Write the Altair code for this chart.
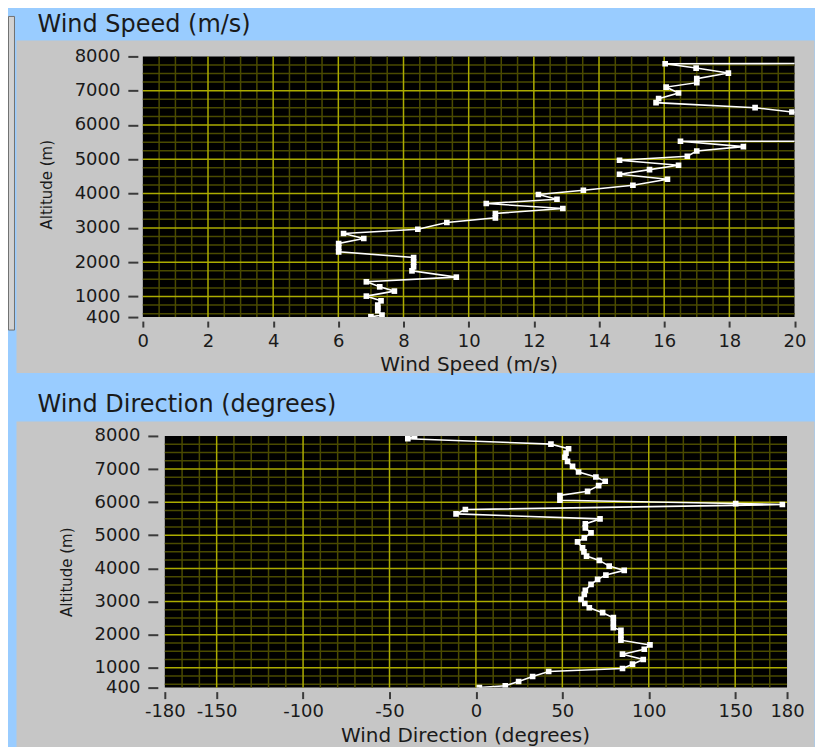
import altair as alt
import pandas as pd

# ---------------- data ----------------
# Wind speed profile (altitude m, speed m/s); two points lie beyond the 20 m/s edge
speed_alt = [7800, 7787, 7660, 7514, 7350, 7234, 7106, 6932, 6768, 6651, 6505, 6378,
             5532, 5525, 5370, 5243, 5088, 4971, 4826, 4700, 4564, 4418, 4243, 4098,
             3973, 3836, 3711, 3565, 3420, 3292, 3157, 2962, 2837, 2691, 2546, 2424,
             2302, 2138, 2000, 1864, 1748, 1564, 1428, 1282, 1157, 1011, 874, 749,
             666, 583, 458, 410]
speed_val = [28.0, 16.03, 16.98, 17.97, 17.0, 17.0, 16.06, 16.44, 15.83, 15.75, 18.79, 19.92,
             28.0, 16.5, 18.43, 17.0, 16.71, 14.63, 16.44, 15.55, 14.63, 16.1, 15.04, 13.52,
             12.14, 12.71, 10.54, 12.89, 10.82, 10.82, 9.33, 8.44, 6.16, 6.78, 6.01, 6.01,
             6.01, 8.31, 8.31, 8.31, 8.26, 9.62, 6.86, 7.27, 7.72, 6.86, 7.31, 7.21,
             7.21, 7.21, 7.34, 7.0]

# Wind direction profile (altitude m, degrees)
dir_alt = [7995, 7915, 7753, 7614, 7482, 7357, 7232, 7081, 6910, 6759, 6630, 6500,
           6328, 6200, 6057, 5958, 5928, 5777, 5645, 5494, 5344, 5224, 5073, 4922,
           4801, 4620, 4500, 4371, 4241, 4069, 3940, 3798, 3669, 3518, 3337, 3217,
           3066, 2940, 2813, 2663, 2512, 2362, 2211, 2132, 1982, 1832, 1690, 1560,
           1410, 1248, 1108, 976, 886, 735, 585, 455, 400]
dir_val = [-35.5, -39.4, 43.4, 53.6, 52.1, 51.5, 53.0, 55.9, 59.4, 69.4, 74.8, 71.0,
           64.6, 48.6, 48.6, 150.3, 177.3, -6.1, -11.5, 71.8, 63.3, 63.3, 66.6, 62.7,
           58.8, 61.7, 62.5, 64.0, 71.4, 77.1, 85.8, 75.2, 70.4, 66.6, 63.3, 62.7,
           60.8, 63.0, 65.6, 73.3, 79.5, 79.5, 79.5, 83.9, 83.9, 83.9, 100.7, 97.4,
           84.8, 96.8, 90.6, 84.8, 42.1, 32.8, 24.7, 17.0, 2.0]

# axis tick labels
speed_ticks = [0, 2, 4, 6, 8, 10, 12, 14, 16, 18, 20]
dir_ticks = [-180, -150, -100, -50, 0, 50, 100, 150, 180]
alt_ticks = [400, 1000, 2000, 3000, 4000, 5000, 6000, 7000, 8000]

# grid lines
speed_major = [2, 4, 6, 8, 10, 12, 14, 16, 18]
speed_minor = [v / 2 for v in range(1, 40) if v % 4 != 0]
dir_major = [-150, -100, -50, 0, 50, 100, 150]
dir_minor = [v for v in range(-170, 180, 10) if v % 50 != 0]
alt_major = [1000, 2000, 3000, 4000, 5000, 6000, 7000]
alt_minor = [v for v in range(500, 8000, 250) if v % 1000 != 0]

# ---------------- styling ----------------
FONT = "DejaVu Sans"
BLUE = "#99CCFF"
GRAY = "#C6C6C6"
MAJOR = "#ABAB00"
MINOR = "#4A4A00"
TEXT = "#1A1A1A"
dummy = pd.DataFrame({"k": [0]})


def axis(values, title, offset, tick, pad, tpad=None, tx=None, ty=None):
    kw = dict(values=values, title=title, domain=False, grid=False, offset=offset,
              tickSize=tick, tickWidth=2, tickColor="#3A3A3A", labelPadding=pad,
              labelFlush=False, labelOverlap=False, labelExpr="'' + datum.value",
              labelFont=FONT, labelFontSize=18, labelColor=TEXT, zindex=2,
              titleFont=FONT, titleFontWeight="normal", titleColor=TEXT)
    if tpad is not None:
        kw.update(titlePadding=tpad, titleFontSize=20)
    if tx is not None:
        kw.update(titleX=tx, titleY=ty, titleFontSize=15, titleAngle=270,
                  titleBaseline="middle", titleAlign="center")
    return alt.Axis(**kw)


def rect(x, x2, y, y2, **mk):
    return alt.Chart(dummy).mark_rect(**mk).encode(
        x=alt.value(x), x2=alt.value(x2), y=alt.value(y), y2=alt.value(y2))


def title_text(txt, x, y):
    return alt.Chart(dummy).mark_text(
        text=txt, align="left", baseline="alphabetic", font=FONT, fontSize=24,
        color=TEXT).encode(x=alt.value(x), y=alt.value(y))


def panel(values, vals_alt, xdomain, xlo, xhi, xmajor, xminor, W, H, xaxis, yaxis,
          deco):
    xs = alt.Scale(domain=xdomain, nice=False, zero=False)
    ys = alt.Scale(domain=[400, 8000], nice=False, zero=False)
    df = pd.DataFrame({"x": values, "y": vals_alt})

    def X(f="x"):
        return alt.X(f"{f}:Q", scale=xs, axis=xaxis)

    def Y(f="y"):
        return alt.Y(f"{f}:Q", scale=ys, axis=yaxis)

    bg = alt.Chart(dummy).mark_rect(color="black").encode(
        x=alt.X(datum=xlo, scale=xs, axis=xaxis), x2=alt.X2(datum=xhi),
        y=alt.Y(datum=400, scale=ys, axis=yaxis), y2=alt.Y2(datum=8000))

    def vrule(vs, col):
        return alt.Chart(pd.DataFrame({"x": vs})).mark_rule(
            color=col, strokeWidth=1.5).encode(
            x=X(), y=alt.Y(datum=400, scale=ys, axis=yaxis), y2=alt.Y2(datum=8000))

    def hrule(vs, col):
        return alt.Chart(pd.DataFrame({"y": vs})).mark_rule(
            color=col, strokeWidth=1.5).encode(
            y=Y(), x=alt.X(datum=xlo, scale=xs, axis=xaxis), x2=alt.X2(datum=xhi))

    line = alt.Chart(df).mark_line(color="white", strokeWidth=1.6, clip=True).encode(
        x=X(), y=Y(), order=alt.Order("y:Q", sort="descending"))
    pts = alt.Chart(df).mark_square(color="white", size=32, opacity=1,
                                     clip=True).encode(x=X(), y=Y())
    return alt.layer(*deco, bg,
                     vrule(xminor, MINOR), hrule(alt_minor, MINOR),
                     vrule(xmajor, MAJOR), hrule(alt_major, MAJOR),
                     line, pts).properties(width=W, height=H)


# Both plot groups start at page x 142.5; page = chart + 8
# top panel: plot area at page (142.5, 56)
W1, H1 = 652.5, 261
top_deco = [
    rect(-134.5, -126.5, -48, 317, color=BLUE),
    rect(-126.5, 672.5, -16, 317, color=GRAY),
    rect(-134.5, -128.5, -40, 274, color="#D2D2D2", stroke="#707070", strokeWidth=1),
    title_text("Wind Speed (m/s)", -105.5, -24.5),
]
top = panel(speed_val, speed_alt, [0, 20], 0, 20, speed_major, speed_minor,
            W1, H1,
            axis(speed_ticks, "Wind Speed (m/s)", 4, 6, 5, tpad=4),
            axis(alt_ticks, "Altitude (m)", 5, 10, 8, tx=-91, ty=128),
            top_deco)

# bottom panel: data rectangle at page (164.5, 434.5), group starts at 142.5
LEFT_GAP = 22.0
W2, H2 = 645, 252
PXDEG = (W2 - LEFT_GAP) / 360.0
bot_deco = [
    rect(-134.5, -126.5, -54.5, 312.5, color=BLUE),
    rect(-126.5, 672.5, -14.5, 312.5, color=GRAY),
    title_text("Wind Direction (degrees)", -105.5, -24),
]
bottom = panel(dir_val, dir_alt, [-180 - LEFT_GAP / PXDEG, 180], -180, 180,
               dir_major, dir_minor, W2, H2,
               axis(dir_ticks, "Wind Direction (degrees)", 4, 7, 4, tpad=5),
               axis(alt_ticks, "Altitude (m)", 7 - LEFT_GAP, 10, 8,
                    tx=-91.5, ty=136),
               bot_deco)

chart = alt.concat(top, bottom, columns=1, spacing=7).properties(
    padding={"left": 0, "top": 0, "right": 0, "bottom": 0},
    background=BLUE,
).configure_view(stroke=None)

chart.save("out.html", embed_options={"renderer": "svg", "actions": False})
